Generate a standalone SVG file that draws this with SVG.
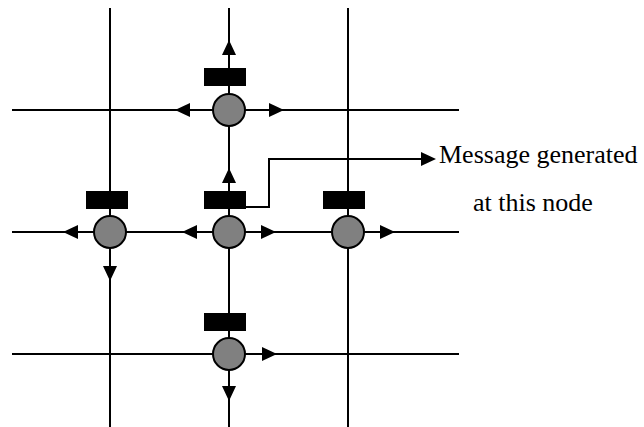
<svg xmlns="http://www.w3.org/2000/svg" xmlns:xlink="http://www.w3.org/1999/xlink" width="644" height="427" viewBox="0 0 644 427">
  <style>
    .grid { stroke: #000; stroke-width: 2; fill: none; }
    .conn { stroke: #000; stroke-width: 2; fill: none; }
    .buf { fill: #000; }
    .node { fill: #808080; stroke: #000; stroke-width: 2; }
    .ah { fill: #000; }
    .label { font-family: "Liberation Serif", "Times New Roman", serif; font-size: 26px; fill: #000; }
  </style>
  <defs>
    <path id="ah" class="ah" d="M0,0 L-15,-7 L-15,7 Z"/>
  </defs>
  <rect width="644" height="427" fill="#fff"/>
  <g id="grid" class="grid">
    <line x1="110" y1="8" x2="110" y2="427"/>
    <line x1="229" y1="8" x2="229" y2="427"/>
    <line x1="348" y1="8" x2="348" y2="427"/>
    <line x1="12" y1="110" x2="459" y2="110"/>
    <line x1="12" y1="232" x2="459" y2="232"/>
    <line x1="12" y1="354" x2="459" y2="354"/>
  </g>
  <g id="connectors">
    <polyline class="conn" points="246,207 269,207 269,159 422,159"/>
    <use xlink:href="#ah" transform="translate(436,159)"/>
    <use xlink:href="#ah" transform="translate(229,40) rotate(-90)"/>
    <use xlink:href="#ah" transform="translate(175,110) rotate(180)"/>
    <use xlink:href="#ah" transform="translate(284,110)"/>
    <use xlink:href="#ah" transform="translate(229,168) rotate(-90)"/>
    <use xlink:href="#ah" transform="translate(182,232) rotate(180)"/>
    <use xlink:href="#ah" transform="translate(276,232)"/>
    <use xlink:href="#ah" transform="translate(63,232) rotate(180)"/>
    <use xlink:href="#ah" transform="translate(110,281) rotate(90)"/>
    <use xlink:href="#ah" transform="translate(395,232)"/>
    <use xlink:href="#ah" transform="translate(277,354)"/>
    <use xlink:href="#ah" transform="translate(229,401) rotate(90)"/>
  </g>
  <g id="node-top">
    <rect class="buf" x="204" y="68" width="42" height="18"/>
    <circle class="node" cx="229" cy="110" r="16"/>
  </g>
  <g id="node-center">
    <rect class="buf" x="204" y="191" width="42" height="18"/>
    <circle class="node" cx="229" cy="232" r="16"/>
  </g>
  <g id="node-left">
    <rect class="buf" x="86" y="191" width="42" height="18"/>
    <circle class="node" cx="110" cy="232" r="16"/>
  </g>
  <g id="node-right">
    <rect class="buf" x="323" y="191" width="42" height="18"/>
    <circle class="node" cx="348" cy="232" r="16"/>
  </g>
  <g id="node-bottom">
    <rect class="buf" x="204" y="313" width="42" height="18"/>
    <circle class="node" cx="229" cy="354" r="16"/>
  </g>
  <g id="label">
    <text class="label" x="439" y="163">Message generated</text>
    <text class="label" x="473" y="211">at this node</text>
  </g>
</svg>
